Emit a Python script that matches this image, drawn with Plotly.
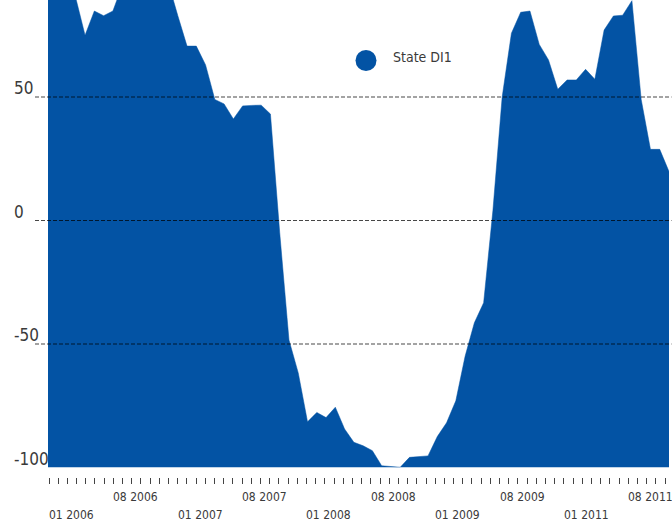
import plotly.graph_objects as go

# ---- data ----
months = list(range(68))  # Jan 2006 .. Aug 2011, monthly
state_di1 = [97, 96, 94, 90, 75, 84.8, 82.9, 84.8, 95, 97,
             98, 99, 98, 96, 83, 70.6, 70.6, 63, 49, 47.2,
             41.1, 46.4, 46.6, 46.7, 43.1, -5, -48.4, -61.7, -81.5, -77.7,
             -79.8, -75.6, -84.4, -89.8, -91.2, -93.2, -99.3, -99.6, -99.9, -95.9,
             -95.6, -95.3, -87.5, -81.9, -73, -55, -41.4, -33.3, 4, 50,
             75.8, 84.3, 84.8, 71.3, 65, 53.1, 56.9, 56.9, 61.2, 57.2,
             77.1, 82.8, 83.1, 89, 49, 28.8, 28.8, 19.8]
x_label_pos = [0, 7, 14, 21, 28, 35, 42, 49, 56, 63]
x_labels = ["01 2006", "08 2006", "01 2007", "08 2007", "01 2008",
            "08 2008", "01 2009", "08 2009", "01 2011", "08 2011"]
y_ticks = [50, 0, -50, -100]
y_tick_labels = ["50", "0", "-50", "-100"]
series_name = "State DI1"

BLUE = "#0353a4"
TEXT = "#3a3a3a"
FONT = "'DejaVu Sans Condensed', 'Liberation Sans Narrow', 'Liberation Sans', sans-serif"
Y_MIN, Y_MAX = -100, 89.27

fig = go.Figure()
# baseline at the bottom of the axis
fig.add_trace(go.Scatter(x=months, y=[Y_MIN] * len(months), mode="lines",
                         line=dict(width=0, color=BLUE), hoverinfo="skip",
                         showlegend=False))
fig.add_trace(go.Scatter(x=months, y=state_di1, mode="lines", name=series_name,
                         line=dict(width=0.5, color=BLUE), fill="tonexty",
                         fillcolor=BLUE, showlegend=False))
# invisible trace on the tick axis
fig.add_trace(go.Scatter(x=[months[0]], y=[Y_MIN], xaxis="x2", mode="markers",
                         marker=dict(opacity=0), hoverinfo="skip", showlegend=False))

W, H = 672, 525
ML, MR = 48, 3
plot_w = W - ML - MR
bottom_px = 467.5
tick_axis_px = 476.5

shapes = []
for v in y_ticks[:-1]:
    shapes.append(dict(type="line", xref="paper", yref="y",
                       x0=(35 - ML) / plot_w, x1=1.004, y0=v, y1=v,
                       line=dict(color="rgba(0,0,0,0.72)", width=1, dash="4px,2px"),
                       layer="above"))
# legend marker
shapes.append(dict(type="circle", xref="paper", yref="paper",
                   xsizemode="pixel", ysizemode="pixel",
                   xanchor=(366 - ML) / plot_w, yanchor=(H - 60.5) / H,
                   x0=-10.5, x1=10.5, y0=-10.5, y1=10.5,
                   fillcolor=BLUE, line=dict(width=0)))

annotations = []
for v, t in zip(y_ticks, y_tick_labels):
    annotations.append(dict(text=t, xref="paper", yref="y", x=(12 - ML) / plot_w, y=v,
                            xanchor="left", yanchor="bottom", yshift=-3, showarrow=False,
                            font=dict(family=FONT, size=17, color=TEXT)))
for j, (p, t) in enumerate(zip(x_label_pos, x_labels)):
    row_y = 497 if j % 2 == 1 else 515
    annotations.append(dict(text=t, xref="x2", yref="paper", x=p, y=(H - row_y) / H,
                            xanchor="left", yanchor="middle", xshift=-2, showarrow=False,
                            font=dict(family=FONT, size=12, color=TEXT)))
annotations.append(dict(text=series_name, xref="paper", yref="paper",
                        x=(391 - ML) / plot_w, y=(H - 57) / H, xanchor="left",
                        yanchor="middle", showarrow=False,
                        font=dict(family=FONT, size=14, color=TEXT)))

# tick axis range so ticks start at px 49 with 9.195 px spacing
tick_step = 9.195
a = -(49 - ML) / tick_step
b = a + plot_w / tick_step

fig.update_layout(
    width=W, height=H,
    margin=dict(l=ML, r=MR, t=0, b=0),
    paper_bgcolor="white", plot_bgcolor="white",
    showlegend=False,
    xaxis=dict(range=[months[0], months[-1]], visible=False, showgrid=False,
               zeroline=False),
    xaxis2=dict(range=[a, b], overlaying="x", anchor="free",
                position=(H - tick_axis_px) / H, side="bottom",
                tickmode="array", tickvals=months, ticks="outside", ticklen=6,
                tickwidth=1, tickcolor="#444", showticklabels=False,
                showgrid=False, zeroline=False, showline=False),
    yaxis=dict(range=[Y_MIN, Y_MAX], domain=[(H - bottom_px) / H, 1],
               showgrid=False, zeroline=False, showticklabels=False, ticks=""),
    shapes=shapes,
    annotations=annotations,
)

fig.write_html("out.html")
